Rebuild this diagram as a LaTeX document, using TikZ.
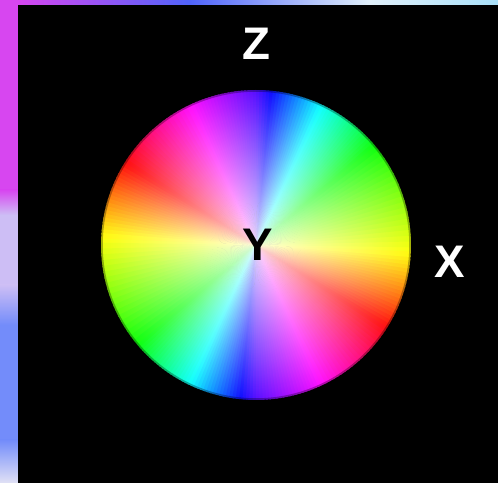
\documentclass[tikz,border=0pt]{standalone}
\usepackage{fontspec}
\setmainfont{Liberation Sans}
\usetikzlibrary{fadings}

\definecolor{stripMagenta}{RGB}{215,70,240}
\definecolor{stripLavender}{RGB}{205,190,245}
\definecolor{stripBlue}{RGB}{115,140,250}
\definecolor{stripPale}{RGB}{225,225,245}
\definecolor{topBlue}{RGB}{80,100,250}
\definecolor{topWhite}{RGB}{225,240,250}
\definecolor{topCyan}{RGB}{170,225,250}

\tikzfading[name=paleCentre, inner color=transparent!15, outer color=transparent!100]
\tikzset{
  axislabel/.style={font=\fontsize{26}{30}\selectfont\bfseries, inner sep=0pt},
}

\begin{document}
\begin{tikzpicture}[x=0.02cm, y=0.02cm]
    \useasboundingbox (0,0) rectangle (498,483);

    % Bandes floues du fond (bord gauche et bord du haut)
    \fill[stripMagenta] (0,293) rectangle (18,483);
    \shade[top color=stripMagenta, bottom color=stripLavender] (0,268) rectangle (18,293);
    \fill[stripLavender] (0,198) rectangle (18,268);
    \shade[top color=stripLavender, bottom color=stripBlue] (0,158) rectangle (18,198);
    \fill[stripBlue] (0,43) rectangle (18,158);
    \shade[top color=stripBlue, bottom color=stripPale] (0,0) rectangle (18,43);
    \shade[left color=stripMagenta, right color=topBlue] (18,478) rectangle (190,483);
    \shade[left color=topBlue, right color=topWhite] (190,478) rectangle (370,483);
    \shade[left color=topWhite, right color=topCyan] (370,478) rectangle (498,483);

    % Fond noir
    \fill[black] (18,0) rectangle (498,478);

    % Disque des couleurs (deux tours de teinte)
    \foreach \aa/\ha/\ab/\hb in {-3/60/40/120, 40/120/65/180, 65/180/90/258, 90/258/115/300, 115/300/148/360, 148/360/177/420}{
      \foreach \k in {0,...,19}{
        \pgfmathsetmacro{\ang}{\aa+(\ab-\aa)*\k/20}
        \pgfmathsetmacro{\wid}{(\ab-\aa)/20+0.6}
        \pgfmathsetmacro{\hue}{mod(\ha+(\hb-\ha)*(\k+0.5)/20,360)/360}
        \definecolor{wedgecol}{hsb}{\hue,0.95,1}
        \fill[wedgecol] (256,238) -- ++(\ang:155) arc[start angle=\ang, end angle=\ang+\wid, radius=155] -- cycle;
        \fill[wedgecol] (256,238) -- ++(\ang+180:155) arc[start angle=\ang+180, end angle=\ang+180+\wid, radius=155] -- cycle;
      }
    }
    \fill[white, path fading=paleCentre] (256,238) circle[radius=155];
    \draw[black, opacity=0.3, line width=2] (256,238) circle[radius=155];

    % Etiquettes des axes
    \node[axislabel, white] (zlab) at (256,439) {Z};
    \node[axislabel, white] (xlab) at (450,221) {X};
    \node[axislabel, black] (ylab) at (258,238) {Y};
\end{tikzpicture}
\end{document}
